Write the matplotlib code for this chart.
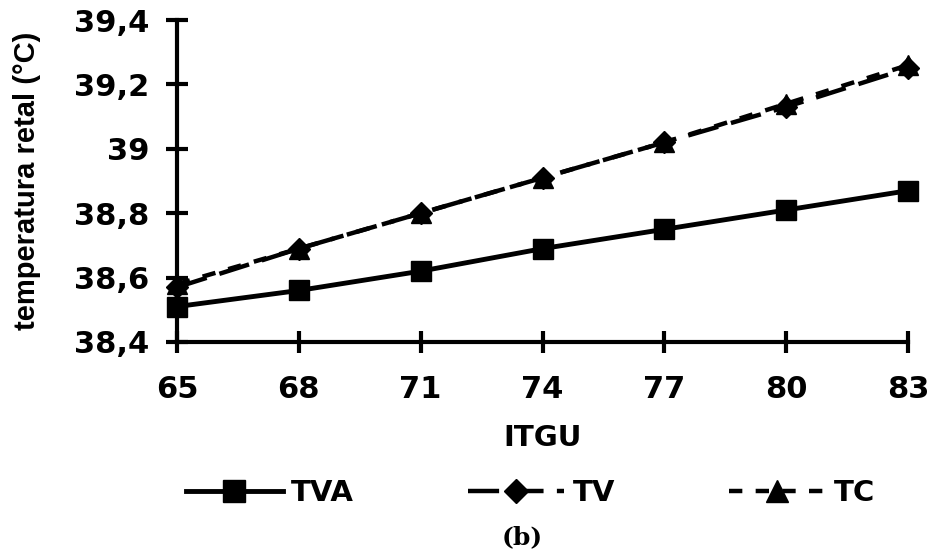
import matplotlib
matplotlib.use("Agg")
import matplotlib.pyplot as plt

# ── data ──────────────────────────────────────────────────────────────────────
itgu = [65, 68, 71, 74, 77, 80, 83]
tva  = [38.51, 38.56, 38.62, 38.69, 38.75, 38.81, 38.87]
tv   = [38.57, 38.69, 38.80, 38.91, 39.02, 39.13, 39.25]
tc   = [38.58, 38.69, 38.80, 38.91, 39.02, 39.14, 39.26]

yticks      = [38.4, 38.6, 38.8, 39.0, 39.2, 39.4]
ytick_labs  = ["38,4", "38,6", "38,8", "39", "39,2", "39,4"]

fig = plt.figure(figsize=(9.34, 5.57), dpi=100)
ax = fig.add_axes([0.1895, 0.386, 0.7827, 0.578])

ax.plot(itgu, tva, color="black", lw=3.5, marker="s", ms=15,
        label="TVA", clip_on=False, zorder=3)
ax.plot(itgu, tv, color="black", lw=3.2, marker="D", ms=11,
        dashes=(7, 3), label="TV", clip_on=False, zorder=3)
ax.plot(itgu, tc, color="black", lw=3.2, marker="^", ms=15,
        dashes=(3, 3), label="TC", clip_on=False, zorder=4)

ax.set_xlim(65, 83)
ax.set_ylim(38.4, 39.4)
ax.set_xticks(itgu)
ax.set_xticklabels([str(v) for v in itgu])
ax.set_yticks(yticks)
ax.set_yticklabels(ytick_labs)

for s in ["top", "right"]:
    ax.spines[s].set_visible(False)
for s in ["left", "bottom"]:
    ax.spines[s].set_linewidth(3)

ax.tick_params(direction="inout", length=16, width=3, pad=12,
               labelsize=22)
for lab in ax.get_xticklabels() + ax.get_yticklabels():
    lab.set_fontweight("heavy")
ax.tick_params(axis="x", pad=16)

ax.set_xlabel("ITGU", fontsize=21, fontweight="bold", labelpad=14)
ax.set_ylabel("temperatura retal (°C)", fontsize=21, fontweight="bold",
              family=["Liberation Sans Narrow", "Liberation Sans", "DejaVu Sans"],
              labelpad=24)

ax.legend(loc="center", bbox_to_anchor=(0.484, -0.47), ncol=3, frameon=False,
          prop={"weight": "bold", "size": 21}, handlelength=3.3,
          handletextpad=0.3, columnspacing=3.9, markerscale=1.1)

fig.text(0.559, 0.036, "(b)", fontsize=18, fontweight="bold",
         family="DejaVu Serif", ha="center", va="center")

fig.savefig("out.png", dpi=100)
